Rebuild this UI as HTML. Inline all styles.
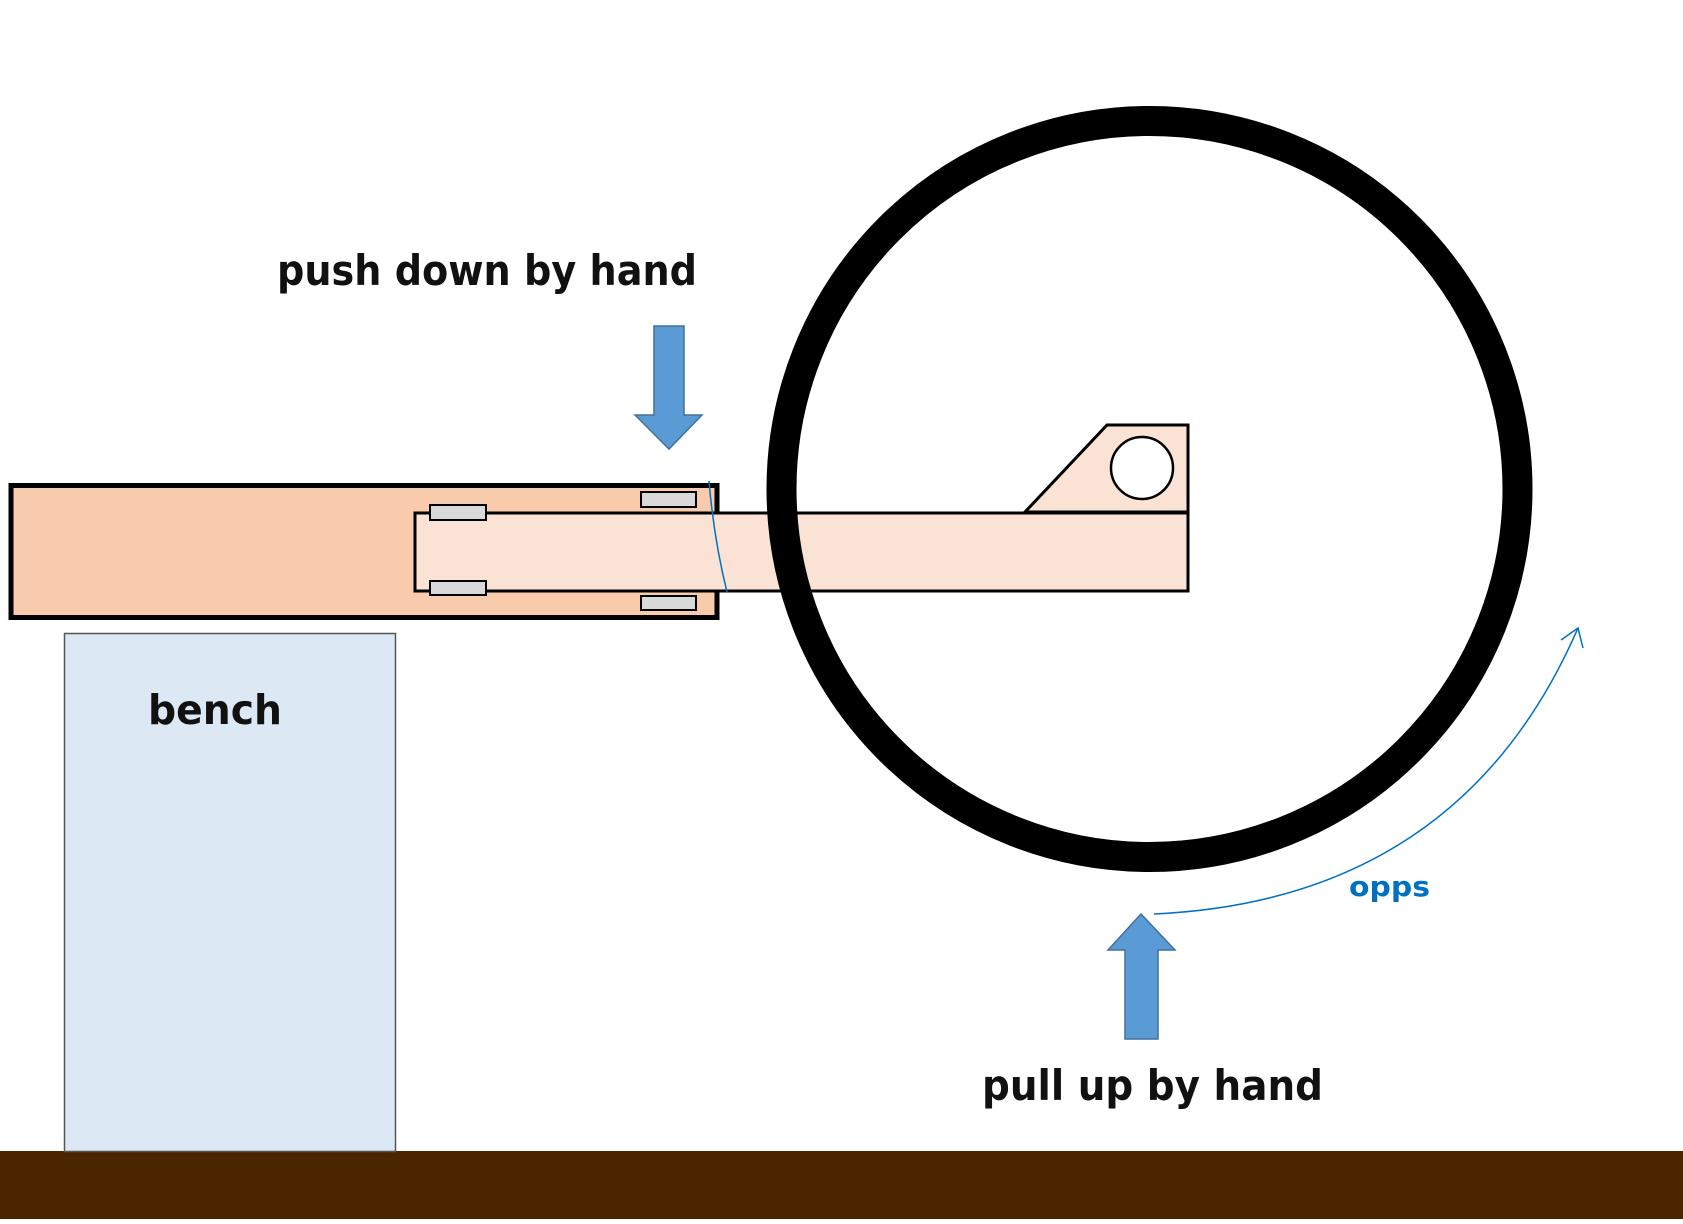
<!DOCTYPE html>
<html><head><meta charset="utf-8"><style>
html,body{margin:0;padding:0;background:#fff;}
svg{display:block;}
text{font-family:"DejaVu Sans","Liberation Sans",sans-serif;font-weight:bold;}
</style></head><body>
<svg width="1683" height="1224" viewBox="0 0 1683 1224" xmlns="http://www.w3.org/2000/svg">
<rect x="0" y="0" width="1683" height="1224" fill="#fff"/>
<!-- ground -->
<rect x="0" y="1151" width="1683" height="68" fill="#4a2500"/>
<!-- bench -->
<rect x="64.5" y="633.5" width="331" height="518" fill="#dce9f5" stroke="#555" stroke-width="1.5"/>
<text x="148" y="724" font-size="41" fill="#111" textLength="134" lengthAdjust="spacingAndGlyphs">bench</text>
<!-- outer beam -->
<rect x="11" y="485.5" width="706" height="132" fill="#f8cbad" stroke="#000" stroke-width="5"/>
<!-- inner beam -->
<path d="M1188 513 L415 513 L415 591 L1188 591 Z" fill="#fae3d5" stroke="#000" stroke-width="3"/>
<!-- bracket -->
<path d="M1025 512 L1107 425 L1188 425 L1188 512 Z" fill="#fae3d5" stroke="#000" stroke-width="3"/>
<circle cx="1142" cy="468" r="31" fill="#fff" stroke="#000" stroke-width="2.5"/>
<!-- pads -->
<rect x="430" y="505" width="56" height="15" fill="#d9d9d9" stroke="#000" stroke-width="2"/>
<rect x="430" y="581" width="56" height="14" fill="#d9d9d9" stroke="#000" stroke-width="2"/>
<rect x="641" y="492" width="55" height="15" fill="#d9d9d9" stroke="#000" stroke-width="2"/>
<rect x="641" y="596" width="55" height="14" fill="#d9d9d9" stroke="#000" stroke-width="2"/>
<!-- blue thin curve on beam -->
<path d="M709 481 Q714 540 727 592" fill="none" stroke="#0070c0" stroke-width="1.5"/>
<!-- wheel -->
<circle cx="1149.5" cy="489" r="368" fill="none" stroke="#000" stroke-width="30"/>
<!-- down arrow -->
<path d="M654 326 L684 326 L684 415 L702 415 L669 449 L635 415 L654 415 Z" fill="#5b9bd5" stroke="#41719c" stroke-width="1.5"/>
<!-- up arrow -->
<path d="M1141 914 L1175 950 L1158 950 L1158 1039 L1125 1039 L1125 950 L1108 950 Z" fill="#5b9bd5" stroke="#41719c" stroke-width="1.5"/>
<!-- rotation arrow -->
<path d="M1154 914 Q1460 900 1578 628" fill="none" stroke="#0070c0" stroke-width="1.5"/>
<path d="M1561 640 L1578 628 L1583 648" fill="none" stroke="#0070c0" stroke-width="1.5"/>
<!-- labels -->
<text x="277" y="285" font-size="42" fill="#111" textLength="420" lengthAdjust="spacingAndGlyphs">push down by hand</text>
<text x="982" y="1100" font-size="42" fill="#111" textLength="341" lengthAdjust="spacingAndGlyphs">pull up by hand</text>
<text x="1349" y="896" font-size="28" fill="#0070c0" textLength="81" lengthAdjust="spacingAndGlyphs">opps</text>
</svg>
</body></html>
